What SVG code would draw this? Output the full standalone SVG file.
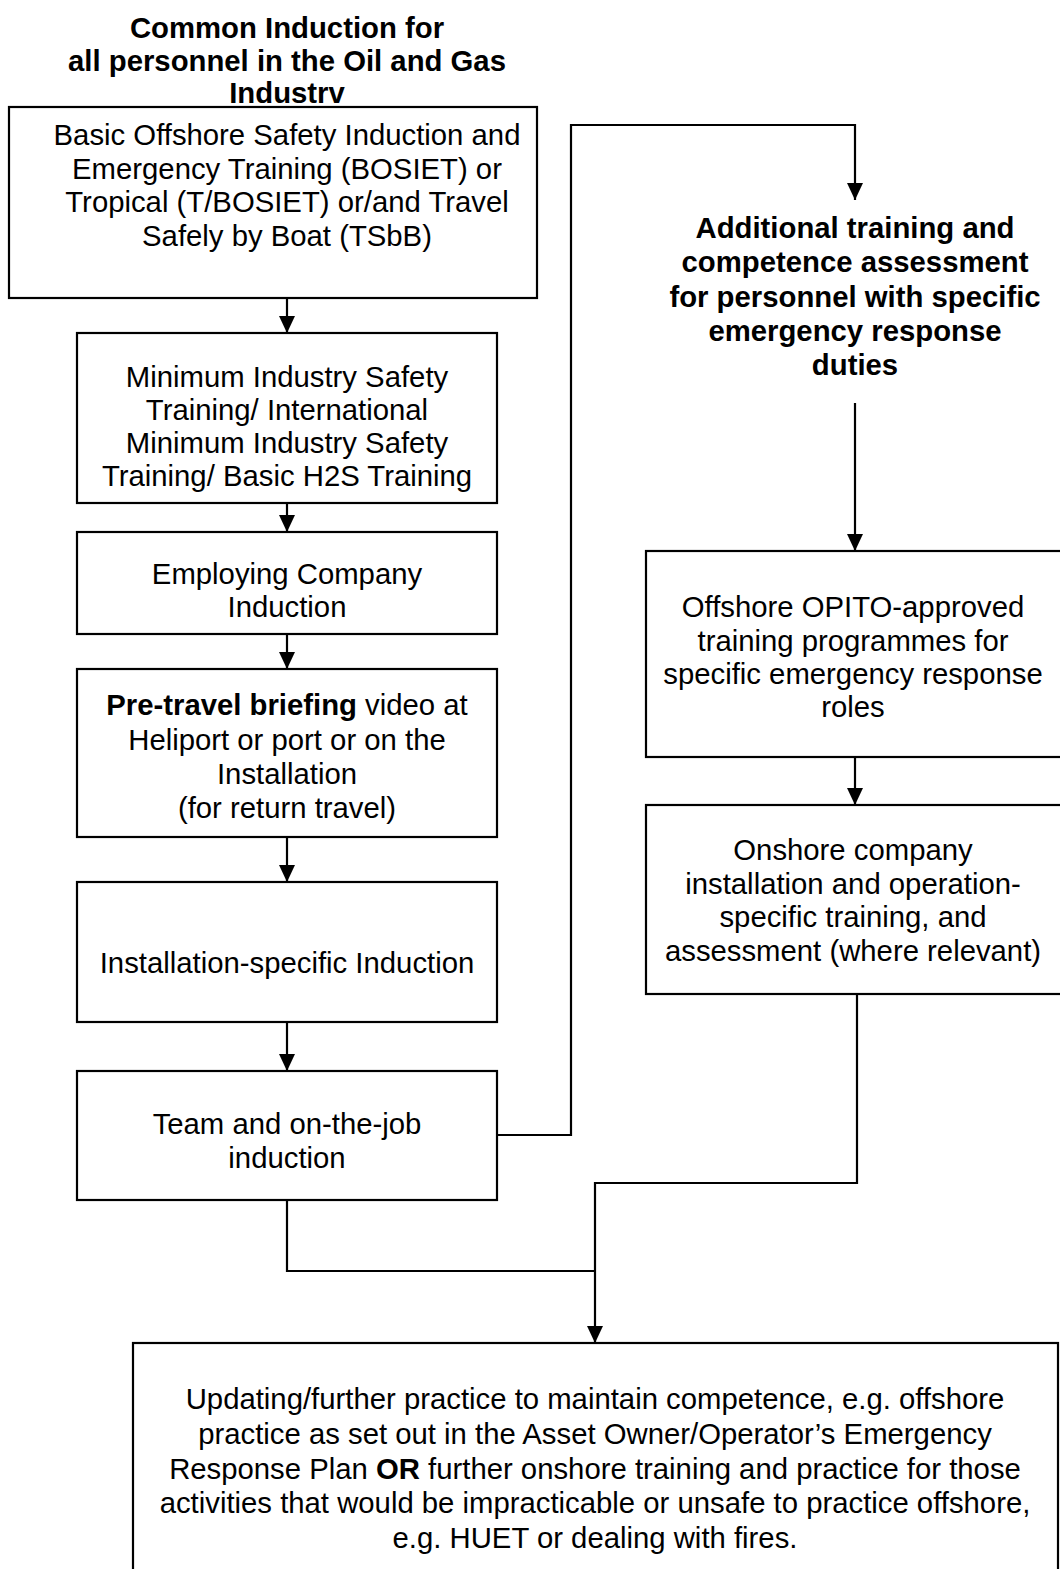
<svg xmlns="http://www.w3.org/2000/svg" width="1060" height="1569" viewBox="0 0 1060 1569">
  <style>
    .box { fill: #ffffff; stroke: #000000; stroke-width: 2.2; }
    .t { font-family: "Liberation Sans", Arial, sans-serif; font-size: 29.3px; fill: #000000; text-anchor: middle; }
    .b { font-weight: bold; }
    .wire { fill: none; stroke: #000000; stroke-width: 2.2; }
  </style>
  <defs>
    <marker id="arrow" viewBox="0 0 17 16" refX="17" refY="8" markerWidth="17" markerHeight="16" markerUnits="userSpaceOnUse" orient="auto">
      <path d="M0,0 L17,8 L0,16 z" fill="#000000"/>
    </marker>
  </defs>
  <rect width="1060" height="1569" fill="#ffffff"/>

  <!-- heading over the left column -->
  <g id="heading-common">
    <text class="t b" x="287" y="38">Common Induction for</text>
    <text class="t b" x="287" y="71">all personnel in the Oil and Gas</text>
    <text class="t b" x="287" y="103">Industrv</text>
  </g>

  <g id="node-bosiet">
    <rect class="box" x="9" y="107" width="528" height="191"/>
    <text class="t" x="287" y="145">Basic Offshore Safety Induction and</text>
    <text class="t" x="287" y="179">Emergency Training (BOSIET) or</text>
    <text class="t" x="287" y="212">Tropical (T/BOSIET) or/and Travel</text>
    <text class="t" x="287" y="246">Safely by Boat (TSbB)</text>
  </g>

  <g id="node-mist">
    <rect class="box" x="77" y="333" width="420" height="170"/>
    <text class="t" x="287" y="387">Minimum Industry Safety</text>
    <text class="t" x="287" y="420">Training/ International</text>
    <text class="t" x="287" y="453">Minimum Industry Safety</text>
    <text class="t" x="287" y="486">Training/ Basic H2S Training</text>
  </g>

  <g id="node-employer">
    <rect class="box" x="77" y="532" width="420" height="102"/>
    <text class="t" x="287" y="584">Employing Company</text>
    <text class="t" x="287" y="617">Induction</text>
  </g>

  <g id="node-pretravel">
    <rect class="box" x="77" y="669" width="420" height="168"/>
    <text class="t" x="287" y="715"><tspan class="b">Pre-travel briefing</tspan> video at</text>
    <text class="t" x="287" y="750">Heliport or port or on the</text>
    <text class="t" x="287" y="784">Installation</text>
    <text class="t" x="287" y="818">(for return travel)</text>
  </g>

  <g id="node-installation">
    <rect class="box" x="77" y="882" width="420" height="140"/>
    <text class="t" x="287" y="973">Installation-specific Induction</text>
  </g>

  <g id="node-team">
    <rect class="box" x="77" y="1071" width="420" height="129"/>
    <text class="t" x="287" y="1134">Team and on-the-job</text>
    <text class="t" x="287" y="1168">induction</text>
  </g>

  <!-- heading over the right column -->
  <g id="heading-additional">
    <text class="t b" x="855" y="238">Additional training and</text>
    <text class="t b" x="855" y="272">competence assessment</text>
    <text class="t b" x="855" y="307">for personnel with specific</text>
    <text class="t b" x="855" y="341">emergency response</text>
    <text class="t b" x="855" y="375">duties</text>
  </g>

  <g id="node-opito">
    <rect class="box" x="646" y="551" width="418" height="206"/>
    <text class="t" x="853" y="617">Offshore OPITO-approved</text>
    <text class="t" x="853" y="651">training programmes for</text>
    <text class="t" x="853" y="684">specific emergency response</text>
    <text class="t" x="853" y="717">roles</text>
  </g>

  <g id="node-onshore">
    <rect class="box" x="646" y="805" width="418" height="189"/>
    <text class="t" x="853" y="860">Onshore company</text>
    <text class="t" x="853" y="894">installation and operation-</text>
    <text class="t" x="853" y="927">specific training, and</text>
    <text class="t" x="853" y="961">assessment (where relevant)</text>
  </g>

  <g id="node-updating">
    <rect class="box" x="133" y="1343" width="925" height="240"/>
    <text class="t" x="595" y="1409">Updating/further practice to maintain competence, e.g. offshore</text>
    <text class="t" x="595" y="1444">practice as set out in the Asset Owner/Operator’s Emergency</text>
    <text class="t" x="595" y="1479">Response Plan <tspan class="b">OR</tspan> further onshore training and practice for those</text>
    <text class="t" x="595" y="1513">activities that would be impracticable or unsafe to practice offshore,</text>
    <text class="t" x="595" y="1548">e.g. HUET or dealing with fires.</text>
  </g>

  <g id="connectors">
    <path class="wire" d="M287,298 V333" marker-end="url(#arrow)"/>
    <path class="wire" d="M287,503 V532" marker-end="url(#arrow)"/>
    <path class="wire" d="M287,634 V669" marker-end="url(#arrow)"/>
    <path class="wire" d="M287,837 V882" marker-end="url(#arrow)"/>
    <path class="wire" d="M287,1022 V1071" marker-end="url(#arrow)"/>
    <path class="wire" d="M497,1135 H571 V125 H855 V200" marker-end="url(#arrow)"/>
    <path class="wire" d="M855,403 V551" marker-end="url(#arrow)"/>
    <path class="wire" d="M855,757 V805" marker-end="url(#arrow)"/>
    <path class="wire" d="M857,994 V1183 H595 V1343" marker-end="url(#arrow)"/>
    <path class="wire" d="M287,1200 V1271 H595"/>
  </g>
</svg>
